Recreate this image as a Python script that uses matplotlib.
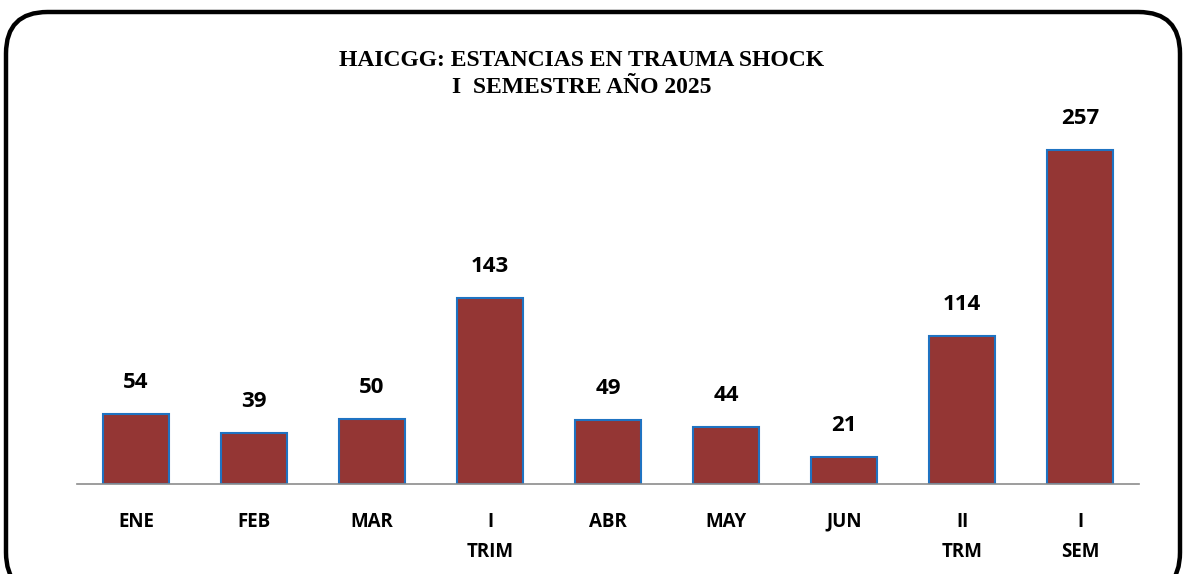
import matplotlib.pyplot as plt
from matplotlib.patches import FancyBboxPatch

# Datos
categorias = ["ENE", "FEB", "MAR", "I\nTRIM", "ABR", "MAY", "JUN", "II\nTRM", "I\nSEM"]
estancias = [54, 39, 50, 143, 49, 44, 21, 114, 257]

titulo = "HAICGG: ESTANCIAS EN TRAUMA SHOCK\nI  SEMESTRE AÑO 2025"

W, H = 1188, 574
fig = plt.figure(figsize=(W / 100, H / 100), dpi=100)

# Marco redondeado
marco = FancyBboxPatch(
    (6 / W, -20 / H), (W - 14) / W, (H + 8) / H,
    boxstyle="round,pad=0,rounding_size=0.035",
    transform=fig.transFigure, fill=False, edgecolor="black", linewidth=3.2,
    mutation_aspect=W / H,
)
fig.patches.append(marco)

# Ejes: base en y=484 px, 1.3 px por unidad
ax = fig.add_axes([77 / W, (H - 484) / H, 1062 / W, 384 / H])
ax.set_xlim(-0.5, len(categorias) - 0.5)
ax.set_ylim(0, 384 / 1.3)

x = range(len(categorias))
barras = ax.bar(x, estancias, width=0.56, color="#943634",
                edgecolor="#1f73c2", linewidth=1.5, zorder=2)

for xi, v in zip(x, estancias):
    ax.annotate(str(v), (xi, v), xytext=(0, 15), textcoords="offset points",
                ha="center", va="bottom", fontsize=16, fontweight="bold",
                family="Open Sans")

ax.set_xticks(list(x))
ax.set_xticklabels(categorias, fontsize=13.5, fontweight="bold", family="Open Sans",
                   linespacing=1.65)
ax.tick_params(axis="x", length=0, pad=20)
ax.set_yticks([])
for lado in ["top", "right", "left"]:
    ax.spines[lado].set_visible(False)
ax.spines["bottom"].set_color("#8c8c8c")
ax.spines["bottom"].set_linewidth(1.2)

fig.text(582 / W, 1 - 74 / H, titulo, ha="center", va="center",
         fontsize=17, fontweight="bold", family="Liberation Serif",
         linespacing=1.35)

fig.savefig("out.png", dpi=100)
